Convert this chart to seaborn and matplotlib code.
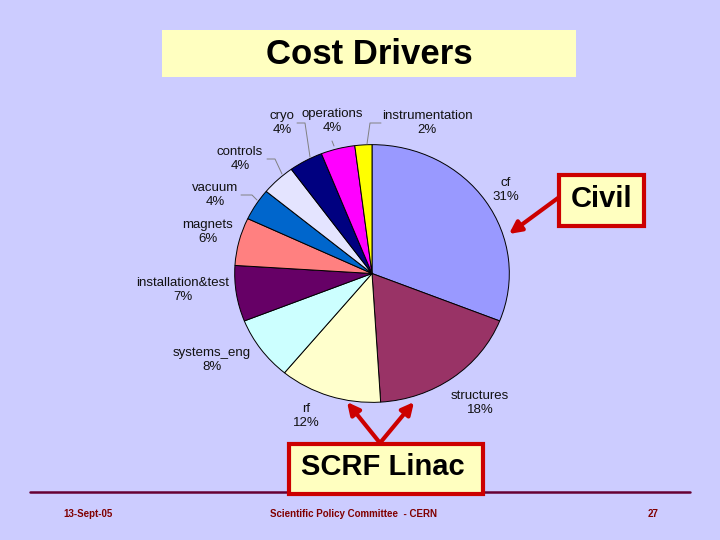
import matplotlib
matplotlib.use("Agg")
import matplotlib.pyplot as plt
import matplotlib.patches as mpatches
import seaborn as sns

# ================= data =================
CATEGORIES = ["cf", "structures", "rf", "systems_eng", "installation&test",
              "magnets", "vacuum", "controls", "cryo", "operations", "instrumentation"]
SHARES = [31, 18, 12, 8, 7, 6, 4, 4, 4, 4, 2]
COLORS = ["#9999FF", "#993366", "#FFFFCC", "#CCFFFF", "#660066",
          "#FF8080", "#0066CC", "#E4E4FF", "#000080", "#FF00FF", "#FFFF00"]

TITLE = "Cost Drivers"
CALLOUT_CIVIL = "Civil"
CALLOUT_LINAC = "SCRF Linac"
FOOTER_LEFT = "13-Sept-05"
FOOTER_MID = "Scientific Policy Committee  - CERN"
FOOTER_RIGHT = "27"

# label positions in slide pixels (layout only)
LABEL_POS = {
    "cf": (506, 190), "structures": (480, 403), "rf": (306, 416),
    "systems_eng": (212, 360), "installation&test": (183, 290),
    "magnets": (208, 232), "vacuum": (215, 195), "controls": (240, 159),
    "cryo": (282, 123), "operations": (332, 121), "instrumentation": (427, 123),
}
LEADERS = {
    "controls": [(267, 159), (275, 159), (282, 174)],
    "vacuum": [(241, 195), (252, 195), (257, 200)],
    "cryo": [(297, 123), (305, 123), (310, 157)],
    "operations": [(332, 141), (334, 146)],
    "instrumentation": [(381, 123), (370, 123), (367, 144)],
}

BG = "#CCCCFF"
BOX_FILL = "#FFFFC0"
RED = "#CC0000"
DARKRED = "#800000"

sns.set_theme(style="white")
plt.rcParams['font.family'] = ['Liberation Sans', 'DejaVu Sans']
plt.rcParams['text.color'] = 'black'

W, H = 720, 540
fig = plt.figure(figsize=(W / 100, H / 100), dpi=100, facecolor=BG)

# pie axes (slide is slightly stretched, so pie is a bit elliptical)
cx, cy, rx, ry = 372, 273.5, 138, 129.5
ax_pie = fig.add_axes([(cx - rx) / W, (H - cy - ry) / H, 2 * rx / W, 2 * ry / H])
ax_pie.pie(SHARES, colors=COLORS, startangle=90, counterclock=False, radius=1,
           wedgeprops=dict(edgecolor="black", linewidth=0.7))
ax_pie.set_aspect('auto')
ax_pie.set_xlim(-1.005, 1.005)
ax_pie.set_ylim(-1.005, 1.005)
ax_pie.axis('off')

# overlay axes in pixel coordinates
ov = fig.add_axes([0, 0, 1, 1], facecolor="none")
ov.set_xlim(0, W)
ov.set_ylim(H, 0)
ov.axis('off')
ov.set_zorder(5)

# title box
ov.add_patch(mpatches.Rectangle((162, 30), 414, 47, facecolor=BOX_FILL, edgecolor="none"))
ov.text(369, 55, TITLE, ha="center", va="center", fontsize=25, fontweight="heavy", color="black")

# slice labels
for cat, val in zip(CATEGORIES, SHARES):
    x, y = LABEL_POS[cat]
    ov.text(x, y, f"{cat}\n{val}%", ha="center", va="center", fontsize=9.5,
            color="#111111", linespacing=1.25, multialignment="center")
for cat, pts in LEADERS.items():
    xs, ys = zip(*pts)
    ov.plot(xs, ys, color="#808080", lw=0.7)

# Civil callout
ov.add_patch(mpatches.Rectangle((559, 175), 85, 51, facecolor=BOX_FILL, edgecolor=RED, lw=3))
ov.text(601.5, 199, CALLOUT_CIVIL, ha="center", va="center", fontsize=21, fontweight="bold", color="black")
ov.annotate("", xy=(509, 234), xytext=(558, 198),
            arrowprops=dict(arrowstyle="-|>", color=RED, lw=3, mutation_scale=18, shrinkA=0, shrinkB=0))

# footer line
ov.plot([30, 690], [492, 492], color="#660033", lw=1.8, zorder=1)

# SCRF Linac callout
ov.add_patch(mpatches.Rectangle((289, 444), 194, 50, facecolor=BOX_FILL, edgecolor=RED, lw=3, zorder=3))
ov.text(383, 467, CALLOUT_LINAC, ha="center", va="center", fontsize=21, fontweight="bold",
        color="black", zorder=4)
for tip in [(347, 402), (414, 402)]:
    ov.annotate("", xy=tip, xytext=(380, 443),
                arrowprops=dict(arrowstyle="-|>", color=RED, lw=3, mutation_scale=18, shrinkA=0, shrinkB=0))

# footer text
ov.text(88, 514, FOOTER_LEFT, ha="center", va="center", fontsize=7, fontweight="bold", color=DARKRED)
ov.text(353, 514, FOOTER_MID, ha="center", va="center", fontsize=7, fontweight="bold", color=DARKRED)
ov.text(653, 514, FOOTER_RIGHT, ha="center", va="center", fontsize=7, fontweight="bold", color=DARKRED)

fig.savefig("out.png", dpi=100, facecolor=BG)
